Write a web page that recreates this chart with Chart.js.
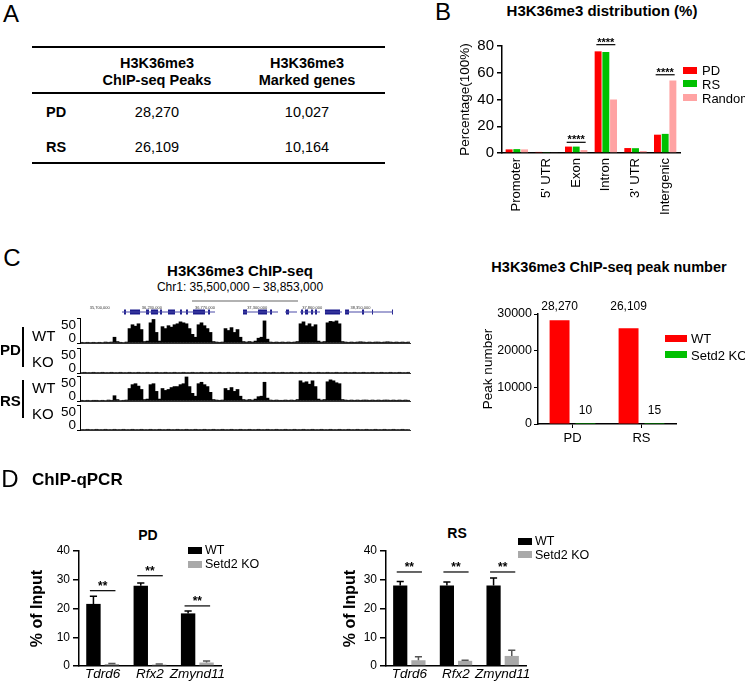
<!DOCTYPE html>
<html>
<head>
<meta charset="utf-8">
<script src="https://cdn.jsdelivr.net/npm/chart.js@4.4.0/dist/chart.umd.min.js"></script>
<style>
  body { margin: 0; background: #fff; font-family: "Liberation Sans", Arial, sans-serif; color: #000; }
  #page { position: relative; width: 745px; height: 688px; overflow: hidden; }
  canvas { position: absolute; }
  .t { position: absolute; white-space: nowrap; transform: translate(-50%, -50%); line-height: 1; }
  .l { position: absolute; white-space: nowrap; transform: translateY(-50%); line-height: 1; }
  .b { font-weight: bold; }
  .letter { font-size: 24px; }
  .rule { position: absolute; background: #000; }
  .key { position: absolute; }
</style>
</head>
<body>
<div id="page">
  <!-- A: table -->
  <div class="t letter" style="left:11px;top:14px">A</div>
  <div class="rule" style="left:32px;top:46px;width:353px;height:2px"></div>
  <div class="rule" style="left:32px;top:92px;width:353px;height:1.5px"></div>
  <div class="rule" style="left:32px;top:162px;width:353px;height:2px"></div>
  <div class="t b" style="left:157px;top:63px;font-size:14.5px">H3K36me3</div>
  <div class="t b" style="left:157px;top:80px;font-size:14.5px">ChIP-seq Peaks</div>
  <div class="t b" style="left:307px;top:63px;font-size:14.5px">H3K36me3</div>
  <div class="t b" style="left:307px;top:80px;font-size:14.5px">Marked genes</div>
  <div class="l b" style="left:46px;top:112px;font-size:14.5px">PD</div>
  <div class="t" style="left:157px;top:112px;font-size:14.5px">28,270</div>
  <div class="t" style="left:307px;top:112px;font-size:14.5px">10,027</div>
  <div class="l b" style="left:46px;top:147px;font-size:14.5px">RS</div>
  <div class="t" style="left:157px;top:147px;font-size:14.5px">26,109</div>
  <div class="t" style="left:307px;top:147px;font-size:14.5px">10,164</div>

  <!-- B: distribution -->
  <div class="t letter" style="left:443px;top:12px">B</div>
  <div class="t b" style="left:602px;top:10px;font-size:15px">H3K36me3 distribution (%)</div>
  <canvas id="distChart" width="288" height="222" style="left:457px;top:0px"></canvas>
  <div class="key" style="left:683px;top:67px;width:14px;height:7px;background:#ff0000"></div>
  <div class="l" style="left:702px;top:70px;font-size:13px">PD</div>
  <div class="key" style="left:683px;top:80px;width:14px;height:7px;background:#00c000"></div>
  <div class="l" style="left:702px;top:84px;font-size:13px">RS</div>
  <div class="key" style="left:683px;top:94px;width:14px;height:7px;background:#ffa3a3"></div>
  <div class="l" style="left:702px;top:98px;font-size:13px">Random</div>

  <!-- C left: tracks -->
  <div class="t letter" style="left:12px;top:258px">C</div>
  <div class="t b" style="left:240px;top:270px;font-size:15px">H3K36me3 ChIP-seq</div>
  <div class="t" style="left:240px;top:287px;font-size:12px">Chr1: 35,500,000 – 38,853,000</div>
  <canvas id="scaleChart" width="330" height="14" style="left:80px;top:296px"></canvas>
  <canvas id="geneChart" width="330" height="8" style="left:80px;top:308px"></canvas>
  <canvas id="trPdWt" width="362" height="45" style="left:50px;top:308px"></canvas>
  <canvas id="trPdKo" width="362" height="45" style="left:50px;top:338px"></canvas>
  <canvas id="trRsWt" width="362" height="45" style="left:50px;top:366px"></canvas>
  <canvas id="trRsKo" width="362" height="45" style="left:50px;top:395px"></canvas>
  <div class="l" style="left:32px;top:335px;font-size:15px">WT</div>
  <div class="l" style="left:32px;top:361px;font-size:15px">KO</div>
  <div class="l" style="left:32px;top:387px;font-size:15px">WT</div>
  <div class="l" style="left:32px;top:413px;font-size:15px">KO</div>
  <div class="l b" style="left:0px;top:349px;font-size:15px">PD</div>
  <div class="l b" style="left:0px;top:400px;font-size:15px">RS</div>
  <div class="rule" style="left:22px;top:327px;width:2px;height:40px"></div>
  <div class="rule" style="left:22px;top:380px;width:2px;height:38px"></div>

  <!-- C right: peak number -->
  <div class="t b" style="left:609px;top:267px;font-size:14.5px">H3K36me3 ChIP-seq peak number</div>
  <canvas id="peakChart" width="200" height="164" style="left:480px;top:286px"></canvas>
  <div class="key" style="left:665px;top:335px;width:22px;height:7px;background:#ff0000"></div>
  <div class="l" style="left:691px;top:338px;font-size:13px">WT</div>
  <div class="key" style="left:665px;top:351px;width:22px;height:7px;background:#00c000"></div>
  <div class="l" style="left:691px;top:355px;font-size:13px">Setd2 KO</div>

  <!-- D: ChIP-qPCR -->
  <div class="t letter" style="left:10px;top:479px">D</div>
  <div class="l b" style="left:32px;top:479px;font-size:17px">ChIP-qPCR</div>
  <div class="t b" style="left:148px;top:535px;font-size:14px">PD</div>
  <canvas id="qpcrPd" width="200" height="148" style="left:28px;top:540px"></canvas>
  <div class="key" style="left:188px;top:547px;width:14px;height:7px;background:#000"></div>
  <div class="l" style="left:205px;top:550px;font-size:12.5px">WT</div>
  <div class="key" style="left:188px;top:561px;width:14px;height:7px;background:#a9a9a9"></div>
  <div class="l" style="left:205px;top:564px;font-size:12.5px">Setd2 KO</div>
  <div class="t b" style="left:457px;top:533px;font-size:14px">RS</div>
  <canvas id="qpcrRs" width="192" height="148" style="left:341px;top:540px"></canvas>
  <div class="key" style="left:518px;top:538px;width:14px;height:7px;background:#000"></div>
  <div class="l" style="left:535px;top:541px;font-size:12.5px">WT</div>
  <div class="key" style="left:518px;top:551px;width:14px;height:7px;background:#a9a9a9"></div>
  <div class="l" style="left:535px;top:555px;font-size:12.5px">Setd2 KO</div>
</div>

<script>
// ---- B: H3K36me3 distribution (%)
const regions = ['Promoter', "5' UTR", 'Exon', 'Intron', "3' UTR", 'Intergenic'];
const pdDist = [2.7, 0.8, 4.8, 76, 3.7, 13.7];
const rsDist = [2.9, 0.7, 4.8, 75.5, 3.6, 14.3];
const randomDist = [2.7, 0.6, 2.2, 40, 1.5, 54.2];
const distSig = [null, null, 8, 81, null, 58.5];

// ---- C: coverage tracks, 110 bins over chr1:35,500,000-38,853,000
const pdWtCov = [
  1.5, 1, 1.5, 1, 1.5, 1, 1.5, 1, 2, 1.5,
  2, 12, 3, 1.5, 1, 2, 30, 38, 35, 40,
  28, 3, 4, 42, 49, 22, 4, 34, 30, 36,
  33, 38, 40, 44, 42, 40, 30, 18, 12, 38,
  42, 36, 30, 22, 3, 2, 1.5, 2, 30, 26,
  32, 22, 28, 12, 3, 2, 3, 2, 4, 10,
  12, 46, 8, 2, 1.5, 2, 1.5, 2, 1.5, 2,
  1.5, 2, 3, 40, 44, 36, 40, 34, 38, 4,
  2, 3, 42, 45, 44, 46, 40, 3, 2, 1.5,
  2, 1.5, 2, 2.5, 2, 1.5, 2, 1.5, 2, 2,
  1.5, 2, 2.5, 2, 1.5, 2, 1.5, 2, 1.5, 2
];
const pdKoCov = [
  1, 1.5, 1, 1, 1.5, 1, 1, 1.5, 1, 1,
  1.5, 1, 1, 1.5, 1, 1, 1.5, 1, 1, 1.5,
  1, 1, 1.5, 1, 1, 1.5, 1, 1, 1.5, 1,
  1, 1.5, 1, 1, 1.5, 1, 1, 1.5, 1, 1,
  1.5, 1, 1, 1.5, 1, 1, 1.5, 1, 1, 1.5,
  1, 1, 1.5, 1, 1, 1.5, 1, 1, 1.5, 1,
  1, 1.5, 1, 1, 1.5, 1, 1, 1.5, 1, 1,
  1.5, 1, 1, 1.5, 1, 1, 1.5, 1, 1, 1.5,
  1, 1, 1.5, 1, 1, 1.5, 1, 1, 1.5, 1,
  1, 1.5, 1, 1, 1.5, 1, 1, 1.5, 1, 1,
  1.5, 1, 1, 1.5, 1, 1, 1.5, 1, 1, 1.5
];
const rsWtCov = [
  1.5, 1, 1.5, 1, 1.5, 1.5, 1, 1.5, 1, 2,
  1.5, 11, 3, 1, 1.5, 2, 26, 34, 36, 31,
  24, 3, 4, 34, 36, 20, 4, 26, 22, 24,
  28, 30, 30, 34, 36, 50, 30, 16, 10, 36,
  39, 34, 30, 18, 3, 2, 1.5, 2, 26, 22,
  28, 20, 24, 10, 3, 2, 3, 2, 4, 9,
  10, 39, 6, 2, 1.5, 2, 1.5, 1.5, 2, 1.5,
  2, 1.5, 3, 42, 38, 40, 35, 42, 30, 4,
  2, 3, 40, 44, 42, 38, 36, 3, 2, 1.5,
  2, 1.5, 2, 1.5, 2, 2, 1.5, 2, 1.5, 2,
  1.5, 2, 2, 1.5, 2, 1.5, 2, 1.5, 2, 1.5
];
const rsKoCov = [
  1, 1, 1.5, 1, 1, 1.5, 1, 1, 1.5, 1,
  1, 1.5, 1, 1, 1.5, 1, 1, 1.5, 1, 1,
  1.5, 1, 1, 1.5, 1, 1, 1.5, 1, 1, 1.5,
  1, 1, 1.5, 1, 1, 1.5, 1, 1, 1.5, 1,
  1, 1.5, 1, 1, 1.5, 1, 1, 1.5, 1, 1,
  1.5, 1, 1, 1.5, 1, 1, 1.5, 1, 1, 1.5,
  1, 1, 1.5, 1, 1, 1.5, 1, 1, 1.5, 1,
  1, 1.5, 1, 1, 1.5, 1, 1, 1.5, 1, 1,
  1.5, 1, 1, 1.5, 1, 1, 1.5, 1, 1, 1.5,
  1, 1, 1.5, 1, 1, 1.5, 1, 1, 1.5, 1,
  1, 1.5, 1, 1, 1.5, 1, 1, 1.5, 1, 1
];
const trackTicks = [0, 50];

// genomic coordinates (Mb)
const viewStart = 35.5;
const viewEnd = 38.853;
const coordTicks = [35.7, 36.23, 36.77, 37.3, 37.86, 38.35];
const scaleBar = [36.638, 37.715];
const geneBodies = [[35.927, 36.872], [37.156, 37.512], [37.583, 37.705], [37.735, 37.939], [37.989, 38.162], [38.193, 38.680]];
const geneExons = [
  [35.947, 35.967], [36.008, 36.110], [36.171, 36.201], [36.221, 36.293], [36.313, 36.333],
  [36.394, 36.465], [36.516, 36.536], [36.577, 36.597], [36.648, 36.770], [36.801, 36.821],
  [37.156, 37.197], [37.309, 37.400], [37.431, 37.451], [37.593, 37.624], [37.746, 37.766],
  [37.786, 37.817], [37.847, 37.868], [37.888, 37.908], [37.989, 38.142], [38.193, 38.233],
  [38.365, 38.386], [38.467, 38.477], [38.670, 38.680]
];

// ---- C right: peak number
const peakGroups = ['PD', 'RS'];
const peakWT = [28270, 26109];
const peakKO = [10, 15];

// ---- D: ChIP-qPCR (% of input)
const genes = ['Tdrd6', 'Rfx2', 'Zmynd11'];
const pdWT = [21.6, 27.9, 18.3];
const pdWTErr = [2.7, 1.0, 0.8];
const pdKO = [0.7, 0.5, 1.2];
const pdKOErr = [0.2, 0.2, 0.5];
const pdSig = [26.2, 31.4, 20.9];
const rsWT = [28.0, 28.0, 28.0];
const rsWTErr = [1.4, 1.2, 2.6];
const rsKO = [2.0, 1.8, 3.5];
const rsKOErr = [1.2, 0.2, 2.0];
const rsSig = [32.7, 32.7, 32.7];

const FONT = '"Liberation Sans", Arial, sans-serif';
Chart.defaults.font.family = FONT;
Chart.defaults.color = '#000';
Chart.defaults.animation = false;
Chart.defaults.responsive = false;
Chart.defaults.plugins.legend.display = false;
Chart.defaults.plugins.tooltip.enabled = false;

// error bars, significance bars and value labels
const extras = {
  id: 'extras',
  afterDatasetsDraw(chart, args, opts) {
    const ctx = chart.ctx;
    const xs = chart.scales.x, ys = chart.scales.y;
    ctx.save();
    chart.data.datasets.forEach((ds, di) => {
      const meta = chart.getDatasetMeta(di);
      meta.data.forEach((bar, i) => {
        if (ds.errors) {
          const top = ys.getPixelForValue(ds.data[i] + ds.errors[i]);
          ctx.strokeStyle = ds.errorColor;
          ctx.lineWidth = 1.5;
          ctx.beginPath();
          ctx.moveTo(bar.x, bar.y);
          ctx.lineTo(bar.x, top);
          ctx.moveTo(bar.x - bar.width / 4, top);
          ctx.lineTo(bar.x + bar.width / 4, top);
          ctx.stroke();
        }
        if (opts.values) {
          const ref = ds.labelAtMax ? ys.getPixelForValue(Math.max(...ds.data)) : bar.y;
          ctx.fillStyle = '#000';
          ctx.font = '12px ' + FONT;
          ctx.textAlign = 'center';
          ctx.textBaseline = 'alphabetic';
          ctx.fillText(ds.data[i].toLocaleString('en-US'), bar.x, ref - 10);
        }
      });
    });
    if (opts.sig) {
      const s = opts.sig;
      const cw = xs.width / chart.data.labels.length;
      s.levels.forEach((lv, i) => {
        if (lv == null) return;
        const cx = xs.getPixelForValue(i), py = ys.getPixelForValue(lv);
        ctx.strokeStyle = '#000';
        ctx.lineWidth = 1.2;
        ctx.beginPath();
        ctx.moveTo(cx - s.half * cw, py);
        ctx.lineTo(cx + s.half * cw, py);
        ctx.stroke();
        ctx.fillStyle = '#000';
        ctx.font = 'bold ' + s.size + 'px ' + FONT;
        ctx.textAlign = 'center';
        ctx.textBaseline = 'alphabetic';
        ctx.fillText(s.text, cx, py + s.shift);
      });
    }
    ctx.restore();
  }
};

const axisBlack = { color: '#000', width: 1.5 };

// B
new Chart(document.getElementById('distChart'), {
  type: 'bar',
  data: {
    labels: regions,
    datasets: [
      { label: 'PD', data: pdDist, backgroundColor: '#ff0000' },
      { label: 'RS', data: rsDist, backgroundColor: '#00c000' },
      { label: 'Random', data: randomDist, backgroundColor: '#ffa3a3' }
    ]
  },
  options: {
    datasets: { bar: { categoryPercentage: 0.78, barPercentage: 0.9 } },
    layout: { padding: { top: 46, right: 65 } },
    scales: {
      x: {
        grid: { display: false, drawTicks: false }, border: axisBlack,
        ticks: { minRotation: 90, maxRotation: 90, autoSkip: false, font: { size: 13 }, padding: 5 },
        afterFit: s => { s.height = 69; }
      },
      y: {
        min: 0, max: 80,
        ticks: { stepSize: 20, font: { size: 15 }, padding: 3 },
        grid: { drawOnChartArea: false, color: '#000', lineWidth: 1.5, tickLength: 5 },
        border: axisBlack,
        title: { display: true, text: 'Percentage(100%)', font: { size: 13.5 }, padding: 0 },
        afterFit: s => { s.width = 45; }
      }
    },
    plugins: { extras: { sig: { levels: distSig, text: '****', half: 0.32, size: 11, shift: 1 } } }
  },
  plugins: [extras]
});

// C tracks: 'y' carries the data and the bracket, 'yl' only the inset labels
const trackBins = pdWtCov.map((_, i) => String(i));
function track(id, values) {
  return new Chart(document.getElementById(id), {
    type: 'bar',
    data: {
      labels: trackBins,
      datasets: [{ data: values, backgroundColor: '#000', categoryPercentage: 1, barPercentage: 1 }]
    },
    options: {
      layout: { padding: { top: 10, right: 2 } },
      scales: {
        x: {
          grid: { display: false, drawTicks: false }, ticks: { display: false },
          border: { color: '#333', dash: [1, 1] },
          afterFit: s => { s.height = 10; }
        },
        y: {
          min: 0, max: 52, weight: 0,
          afterBuildTicks: s => { s.ticks = [{ value: 0 }, { value: 52 }]; },
          ticks: { display: false },
          grid: { drawOnChartArea: false, color: '#000', tickLength: 3 },
          border: { color: '#000' },
          afterFit: s => { s.width = 3; }
        },
        yl: {
          position: 'left', weight: 1, min: -19, max: 77,
          afterBuildTicks: s => { s.ticks = trackTicks.map(v => ({ value: v })); },
          ticks: { font: { size: 13.5 }, padding: 1 },
          grid: { display: false, drawTicks: false },
          border: { display: false },
          afterFit: s => { s.width = 27; }
        }
      }
    }
  });
}
track('trPdWt', pdWtCov);
track('trPdKo', pdKoCov);
track('trRsWt', rsWtCov);
track('trRsKo', rsKoCov);

// scale bar + coordinates
new Chart(document.getElementById('scaleChart'), {
  type: 'bar',
  data: {
    datasets: [{ data: [{ x: scaleBar, y: 4 }], backgroundColor: '#666', maxBarThickness: 1, grouped: false }]
  },
  options: {
    indexAxis: 'y',
    layout: { padding: 0 },
    scales: {
      x: {
        type: 'linear', min: viewStart, max: viewEnd, position: 'bottom',
        grid: { display: false, drawTicks: false }, border: { display: false },
        afterBuildTicks: s => { s.ticks = coordTicks.map(v => ({ value: v })); },
        ticks: { font: { size: 4 }, color: '#333', padding: 0, maxRotation: 0, autoSkip: false,
                 callback: v => Math.round(v * 1e6).toLocaleString('en-US') },
        afterFit: s => { s.height = 5; }
      },
      y: { type: 'linear', min: 0, max: 10, display: false }
    }
  }
});

// gene annotation
new Chart(document.getElementById('geneChart'), {
  type: 'bar',
  data: {
    datasets: [
      { data: geneBodies.map(g => ({ x: g, y: 4 })), backgroundColor: '#4a4aa8', maxBarThickness: 1, grouped: false },
      { data: geneExons.map(g => ({ x: g, y: 4 })), backgroundColor: '#1c1c8c', maxBarThickness: 5, grouped: false }
    ]
  },
  options: {
    indexAxis: 'y',
    layout: { padding: 0 },
    scales: {
      x: { type: 'linear', min: viewStart, max: viewEnd, display: false },
      y: { type: 'linear', min: 0, max: 8, display: false }
    }
  }
});

// C right
new Chart(document.getElementById('peakChart'), {
  type: 'bar',
  data: {
    labels: peakGroups,
    datasets: [
      { label: 'WT', data: peakWT, backgroundColor: '#ff0000', labelAtMax: true },
      { label: 'Setd2 KO', data: peakKO, backgroundColor: '#00c000' }
    ]
  },
  options: {
    datasets: { bar: { categoryPercentage: 0.75, barPercentage: 0.77 } },
    layout: { padding: { top: 28, right: 4 } },
    scales: {
      x: {
        grid: { display: true, drawOnChartArea: false, offset: false, color: '#000', tickLength: 4 },
        border: axisBlack,
        ticks: { font: { size: 13 }, padding: 3 },
        afterFit: s => { s.height = 26; }
      },
      y: {
        min: 0, max: 30000,
        ticks: { stepSize: 10000, font: { size: 12.5 }, padding: 2, callback: v => String(v) },
        grid: { drawOnChartArea: false, color: '#000', tickLength: 4 },
        border: axisBlack,
        title: { display: true, text: 'Peak number', font: { size: 13.5 }, padding: 0 },
        afterFit: s => { s.width = 58; }
      }
    },
    plugins: { extras: { values: true } }
  },
  plugins: [extras]
});

// D
function qpcr(id, wt, wtErr, ko, koErr, sig, yWidth) {
  return new Chart(document.getElementById(id), {
    type: 'bar',
    data: {
      labels: genes,
      datasets: [
        { label: 'WT', data: wt, errors: wtErr, errorColor: '#000', backgroundColor: '#000' },
        { label: 'Setd2 KO', data: ko, errors: koErr, errorColor: '#555', backgroundColor: '#a9a9a9' }
      ]
    },
    options: {
      datasets: { bar: { categoryPercentage: 0.78, barPercentage: 0.78 } },
      layout: { padding: { top: 11, right: 7 } },
      scales: {
        x: {
          grid: { display: false, drawTicks: false }, border: axisBlack,
          ticks: { font: { size: 13.5, style: 'italic' }, padding: 0, maxRotation: 0, autoSkip: false },
          afterFit: s => { s.height = 22; }
        },
        y: {
          min: 0, max: 40,
          ticks: { stepSize: 10, font: { size: 12 }, padding: 3 },
          grid: { drawOnChartArea: false, color: '#000', lineWidth: 1.5, tickLength: 6 },
          border: axisBlack,
          title: { display: true, text: '% of Input', font: { size: 16, weight: 'bold' }, padding: 0 },
          afterFit: s => { s.width = yWidth; }
        }
      },
      plugins: { extras: { sig: { levels: sig, text: '**', half: 0.27, size: 12, shift: -1 } } }
    },
    plugins: [extras]
  });
}
qpcr('qpcrPd', pdWT, pdWTErr, pdKO, pdKOErr, pdSig, 51);
qpcr('qpcrRs', rsWT, rsWTErr, rsKO, rsKOErr, rsSig, 45);
</script>
</body>
</html>
